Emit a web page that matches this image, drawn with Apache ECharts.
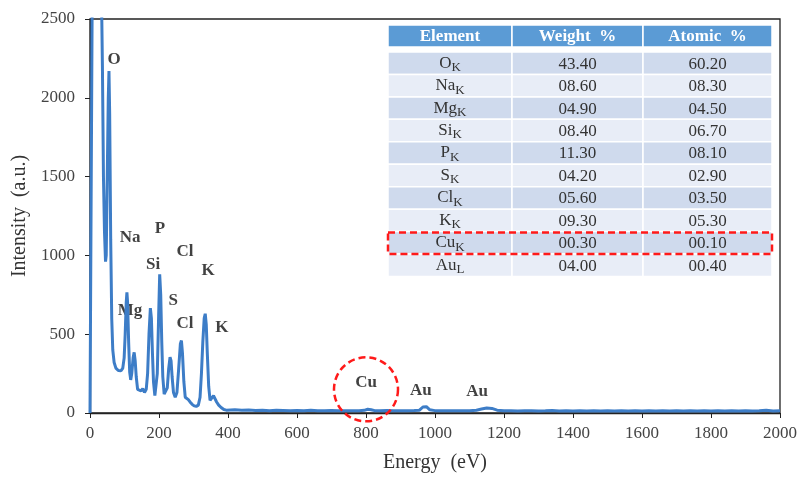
<!DOCTYPE html>
<html>
<head>
<meta charset="utf-8">
<title>EDS spectrum</title>
<script src="https://cdn.jsdelivr.net/npm/echarts@6/dist/echarts.min.js"></script>
<style>
  html, body { margin: 0; padding: 0; background: #fff; }
  #chart { width: 800px; height: 478px; }
</style>
</head>
<body>
<div id="chart"></div>
<script>
// Spectrum: energy (eV) and measured intensity (a.u.)
const energy = [
  0, 4, 7, 12, 20, 28, 33, 36, 39, 42, 45, 47, 50, 53, 55, 57, 60, 63, 66, 70,
  75, 82, 90, 95, 99, 102, 105, 107, 109, 112, 115, 118, 121, 125, 128, 131, 134,
  138, 143, 148, 153, 158, 163, 167, 171, 175, 178, 181, 184, 188, 191, 195, 199,
  202, 205, 208, 211, 215, 219, 224, 228, 232, 235, 238, 242, 247, 252, 257, 262,
  265, 268, 272, 276, 280, 285, 290, 296, 302, 308, 314, 319, 323, 327, 331, 334,
  337, 340, 344, 348, 353, 358, 362, 367, 373, 380, 388, 395,
  400, 420, 440, 460, 480, 500, 520, 540, 560, 580, 600, 620, 640, 660, 680, 700,
  720, 740, 760, 780, 795, 805, 815, 825, 840, 860, 880, 900, 920, 940, 955, 965,
  975, 985, 1000, 1020, 1040, 1060, 1080, 1100, 1120, 1135, 1150, 1165, 1180, 1200,
  1220, 1240, 1260, 1280, 1300, 1320, 1340, 1360, 1380, 1400, 1420, 1440, 1460,
  1480, 1500, 1520, 1540, 1560, 1580, 1600, 1620, 1640, 1660, 1680, 1700, 1720,
  1740, 1760, 1780, 1800, 1820, 1840, 1860, 1880, 1900, 1920, 1940, 1960, 1980, 2000
];
const intensity = [
  0, 0, 2900, 3000, 3000, 2950, 2700, 2200, 1500, 1150, 960, 1000, 1500, 2000, 2170, 1900, 1100, 600, 400, 320,
  285, 270, 268, 285, 350, 500, 700, 765, 700, 450, 260, 210, 250, 350, 385, 330, 230,
  150, 150, 140, 155, 130, 150, 250, 500, 665, 600, 380, 200, 110, 100, 250, 620,
  880, 750, 450, 230, 120, 110, 160, 280, 355, 330, 230, 130, 100, 130, 280, 440,
  460, 380, 200, 100, 90, 85, 70, 55, 45, 42, 50, 100, 250, 450, 600, 630,
  560, 380, 170, 80, 80, 110, 100, 70, 50, 35, 22, 18,
  18, 20, 17, 19, 16, 18, 15, 17, 16, 14, 16, 15, 17, 14, 15, 16,
  14, 15, 14, 15, 17, 24, 21, 15, 14, 16, 14, 15, 14, 16, 18, 38,
  40, 20, 15, 14, 15, 14, 15, 14, 17, 25, 32, 29, 18, 15,
  14, 13, 15, 14, 13, 14, 16, 13, 14, 13, 14, 13, 15,
  13, 14, 13, 14, 13, 14, 13, 14, 13, 14, 13, 15, 13,
  14, 13, 14, 13, 14, 13, 14, 13, 14, 13, 14, 18, 13, 14
];

// Peak annotations: element symbol and where its label sits (eV, a.u.)
const peakNames  = ['O', 'Na', 'P', 'Cl', 'K', 'Si', 'Mg', 'S', 'Cl', 'K', 'Cu', 'Au', 'Au'];
const peakLabelX = [70, 116, 203, 275, 342, 183, 116, 241, 275, 382, 800, 959, 1122];
const peakLabelY = [2241, 1114, 1171, 1025, 905, 943, 652, 715, 570, 544, 190, 139, 133];

// Axis ticks
const xTicks = [0, 200, 400, 600, 800, 1000, 1200, 1400, 1600, 1800, 2000];
const yTicks = [0, 500, 1000, 1500, 2000, 2500];

// Quantification table
const tableHeader = ['Element', 'Weight  %', 'Atomic  %'];
const elemSymbol  = ['O', 'Na', 'Mg', 'Si', 'P', 'S', 'Cl', 'K', 'Cu', 'Au'];
const elemLine    = ['K', 'K', 'K', 'K', 'K', 'K', 'K', 'K', 'K', 'L'];
const weightPct   = ['43.40', '08.60', '04.90', '08.40', '11.30', '04.20', '05.60', '09.30', '00.30', '04.00'];
const atomicPct   = ['60.20', '08.30', '04.50', '06.70', '08.10', '02.90', '03.50', '05.30', '00.10', '00.40'];
const highlighted = 'Cu';

const SERIF = '"Liberation Serif", "Times New Roman", serif';
const chart = echarts.init(document.getElementById('chart'), null, { renderer: 'canvas' });

const spectrum = energy.map((e, i) => [e, intensity[i]]);
const peakPoints = peakNames.map((n, i) => ({ name: n, value: [peakLabelX[i], peakLabelY[i]] }));

chart.setOption({
  animation: false,
  backgroundColor: '#ffffff',
  grid: {
    left: 90, right: 20, top: 19, bottom: 64,
    show: true, borderColor: '#222', borderWidth: 1.3, backgroundColor: 'transparent'
  },
  xAxis: {
    type: 'value', min: xTicks[0], max: xTicks[xTicks.length - 1],
    interval: xTicks[1] - xTicks[0],
    name: 'Energy  (eV)', nameLocation: 'middle', nameGap: 40,
    nameTextStyle: { fontFamily: SERIF, fontSize: 20, color: '#333' },
    axisLine: { lineStyle: { color: '#222', width: 1.3 } },
    axisTick: { show: true, length: 5, inside: false, lineStyle: { color: '#222' } },
    axisLabel: { fontFamily: SERIF, fontSize: 17, color: '#444', margin: 12, formatter: v => String(v) },
    splitLine: { show: false }
  },
  yAxis: {
    type: 'value', min: yTicks[0], max: yTicks[yTicks.length - 1],
    interval: yTicks[1] - yTicks[0],
    name: 'Intensity  (a.u.)', nameLocation: 'middle', nameGap: 56,
    nameTextStyle: { fontFamily: SERIF, fontSize: 20, color: '#333' },
    axisLine: { show: true, lineStyle: { color: '#222', width: 1.3 } },
    axisTick: { show: true, length: 5, inside: false, lineStyle: { color: '#222' } },
    axisLabel: { fontFamily: SERIF, fontSize: 17, color: '#444', margin: 15, formatter: v => String(v) },
    splitLine: { show: false }
  },
  series: [
    {
      type: 'line', name: 'spectrum', data: spectrum,
      showSymbol: false, symbol: 'none', clip: true,
      lineStyle: { color: '#3d7dc7', width: 3 }
    },
    {
      type: 'scatter', name: 'peaks', data: peakPoints,
      symbolSize: 0, silent: true,
      label: {
        show: true, position: 'inside', formatter: '{b}',
        fontFamily: SERIF, fontWeight: 'bold', fontSize: 17, color: '#111'
      }
    }
  ]
});

// Table and highlight overlays
const tLeft = 388, tTop = 25;
const colW = [124, 131, 129];
const headH = 22, firstRowTop = 52, rowH = 22.45;
const g = [];
let cx = tLeft;
tableHeader.forEach((h, c) => {
  g.push({ type: 'rect', shape: { x: cx, y: tTop, width: colW[c], height: headH },
           style: { fill: '#5b9bd5', stroke: '#ffffff', lineWidth: 1.5 } });
  g.push({ type: 'text', x: cx + colW[c] / 2, y: tTop + headH / 2 + 1,
           style: { text: h, fill: '#ffffff', font: 'bold 17px ' + SERIF, align: 'center', verticalAlign: 'middle' } });
  cx += colW[c];
});
elemSymbol.forEach((sym, r) => {
  const y = firstRowTop + r * rowH;
  const fill = r % 2 === 0 ? '#cfdaed' : '#e8edf7';
  const cells = [null, weightPct[r], atomicPct[r]];
  let x = tLeft;
  cells.forEach((val, c) => {
    g.push({ type: 'rect', shape: { x: x, y: y, width: colW[c], height: rowH },
             style: { fill: fill, stroke: '#ffffff', lineWidth: 1.5 } });
    if (c === 0) {
      g.push({ type: 'text', x: x + colW[c] / 2, y: y + rowH / 2,
               style: {
                 text: '{m|' + sym + '}{s|' + elemLine[r] + '}',
                 align: 'center', verticalAlign: 'middle',
                 rich: {
                   m: { fontFamily: SERIF, fontSize: 17, fill: '#333' },
                   s: { fontFamily: SERIF, fontSize: 13, fill: '#333', padding: [9, 0, 0, 0] }
                 }
               } });
    } else {
      g.push({ type: 'text', x: x + colW[c] / 2, y: y + rowH / 2 + 1,
               style: { text: val, fill: '#333', font: '17px ' + SERIF, align: 'center', verticalAlign: 'middle' } });
    }
    x += colW[c];
  });
});
const hi = elemSymbol.indexOf(highlighted);
g.push({ type: 'rect', shape: { x: tLeft, y: firstRowTop + hi * rowH + 1, width: colW[0] + colW[1] + colW[2], height: rowH - 1 },
         style: { fill: 'none', stroke: '#ff1a1a', lineWidth: 2.5, lineDash: [7, 4] }, z: 10 });

// Circle around the Cu L peak, placed in data coordinates
const cuCenter = chart.convertToPixel({ gridIndex: 0 }, [800, 150]);
g.push({ type: 'circle', shape: { cx: cuCenter[0], cy: cuCenter[1], r: 32 },
         style: { fill: 'none', stroke: '#ff1a1a', lineWidth: 2.5, lineDash: [7, 4] }, z: 10 });

chart.setOption({ graphic: g });
</script>
</body>
</html>
